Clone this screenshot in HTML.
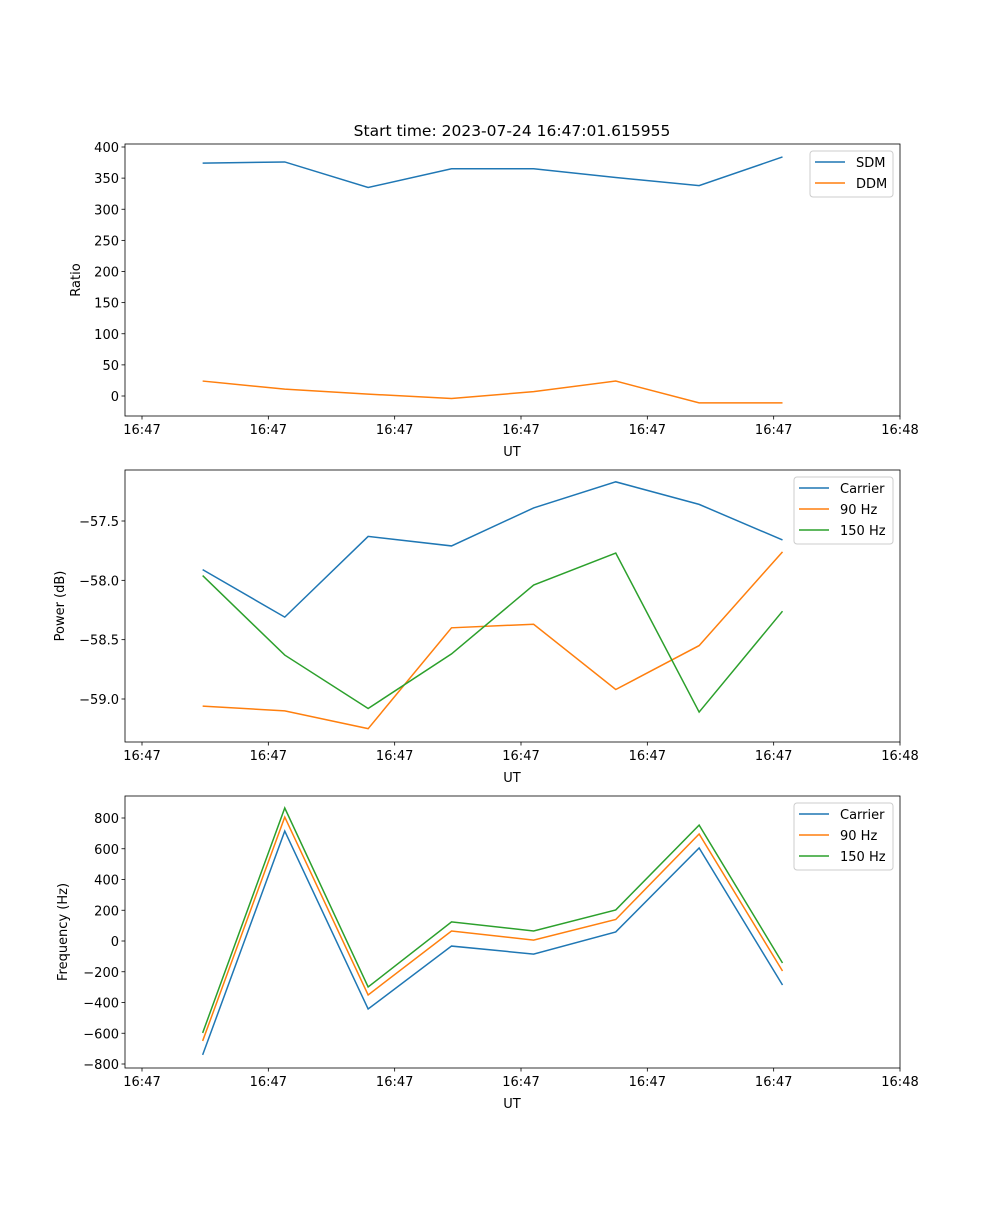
<!DOCTYPE html>
<html><head><meta charset="utf-8"><style>
body{margin:0;background:#fff}
svg text{font-family:"DejaVu Sans","Liberation Sans",sans-serif;font-size:13px;fill:#000}
</style></head><body>
<svg id="fig" width="1000" height="1200" xmlns="http://www.w3.org/2000/svg">
<rect width="1000" height="1200" fill="#fff"/>
<text x="512" y="136" text-anchor="middle" style="font-size:15.5px">Start time: 2023-07-24 16:47:01.615955</text>
</svg>
<script>
const times=[4.8,11.3,17.9,24.5,31.0,37.5,44.1,50.7];
const xTickVals=[0,10,20,30,40,50,60];
const xTickLabels=["16:47","16:47","16:47","16:47","16:47","16:47","16:48"];
const sdm=[374,376,335,365,365,351,338,384];
const ddm=[24,11,3,-4,7,24,-11,-11];
const powCarrier=[-57.91,-58.31,-57.63,-57.71,-57.39,-57.17,-57.36,-57.66];
const pow90=[-59.06,-59.10,-59.25,-58.40,-58.37,-58.92,-58.55,-57.76];
const pow150=[-57.96,-58.63,-59.08,-58.62,-58.04,-57.77,-59.11,-58.26];
const freqCarrier=[-741,715,-442,-33,-85,59,605,-286];
const freq90=[-650,806,-351,65,6,140,696,-195];
const freq150=[-598,865,-299,124,65,202,754,-143];
const ticks1=[0,50,100,150,200,250,300,350,400];
const ticks1Labels=["0","50","100","150","200","250","300","350","400"];
const ticks2=[-57.5,-58.0,-58.5,-59.0];
const ticks2Labels=["\u221257.5","\u221258.0","\u221258.5","\u221259.0"];
const ticks3=[-800,-600,-400,-200,0,200,400,600,800];
const ticks3Labels=["\u2212800","\u2212600","\u2212400","\u2212200","0","200","400","600","800"];

const NS="http://www.w3.org/2000/svg";
const svg=document.getElementById('fig');
function mk(tag,attrs,parent){const e=document.createElementNS(NS,tag);for(const k in attrs)e.setAttribute(k,attrs[k]);(parent||svg).appendChild(e);return e;}
const L=125,R=900;
const xs=t=>142+t*(900-142)/60;
const colors={blue:"#1f77b4",orange:"#ff7f0e",green:"#2ca02c"};

function panel(name,top,bot,ysFn,yt,ytl,ylabel,series,leg){
  const g=mk('g',{});
  
  
  series.forEach(s=>{
    const p=mk('polyline',{points:s.v.map((v,i)=>xs(times[i])+','+ysFn(v)).join(' '),fill:'none',stroke:s.c,'stroke-width':1.5},g);
    
    
  });
  mk('rect',{x:L,y:top,width:R-L,height:bot-top,fill:'none',stroke:'#000','stroke-width':0.8},g);
  xTickVals.forEach((t,i)=>{
    const x=xs(t);
    mk('line',{x1:x,x2:x,y1:bot,y2:bot+3.5,stroke:'#000','stroke-width':0.8},g);
    const tx=mk('text',{x:x,y:bot+18,'text-anchor':'middle'},g);tx.textContent=xTickLabels[i];
    
    
  });
  const xl=mk('text',{x:512,y:bot+40,'text-anchor':'middle'},g);xl.textContent='UT';
  
  
  yt.forEach((v,i)=>{
    const y=ysFn(v);
    mk('line',{x1:L-3.5,x2:L,y1:y,y2:y,stroke:'#000','stroke-width':0.8},g);
    const tx=mk('text',{x:L-6,y:y+5,'text-anchor':'end'},g);tx.textContent=ytl[i];
    
    
  });
  const yl=mk('text',{x:0,y:0,'text-anchor':'middle',transform:`translate(${leg.yx},${(top+bot)/2}) rotate(-90)`},g);yl.textContent=ylabel;
  
  
  const lg=mk('g',{},g);
  
  
  mk('rect',{x:leg.x,y:top+7,width:R-7-leg.x,height:series.length*21+4,rx:3,fill:'#fff','fill-opacity':0.8,stroke:'#ccc'},lg);
  series.forEach((s,i)=>{
    const y=top+18+i*21;
    mk('line',{x1:leg.x+5,x2:leg.x+35,y1:y,y2:y,stroke:s.c,'stroke-width':1.5},lg);
    const t=mk('text',{x:leg.x+46,y:y+5},lg);t.textContent=s.label;
    
    
  });
}
panel('ratio-panel',144,416,v=>396-v*(396-147)/400,ticks1,ticks1Labels,'Ratio',
 [{v:sdm,c:colors.blue,n:'sdm',label:'SDM'},{v:ddm,c:colors.orange,n:'ddm',label:'DDM'}],{x:810,yx:80});
panel('power-panel',470,742,v=>521+(-57.5-v)*(699-521)/1.5,ticks2,ticks2Labels,'Power (dB)',
 [{v:powCarrier,c:colors.blue,n:'power-carrier',label:'Carrier'},{v:pow90,c:colors.orange,n:'power-90hz',label:'90 Hz'},{v:pow150,c:colors.green,n:'power-150hz',label:'150 Hz'}],{x:794,yx:64});
panel('frequency-panel',796,1068,v=>941-v*(941-818)/800,ticks3,ticks3Labels,'Frequency (Hz)',
 [{v:freqCarrier,c:colors.blue,n:'freq-carrier',label:'Carrier'},{v:freq90,c:colors.orange,n:'freq-90hz',label:'90 Hz'},{v:freq150,c:colors.green,n:'freq-150hz',label:'150 Hz'}],{x:794,yx:67});
</script>
</body></html>
